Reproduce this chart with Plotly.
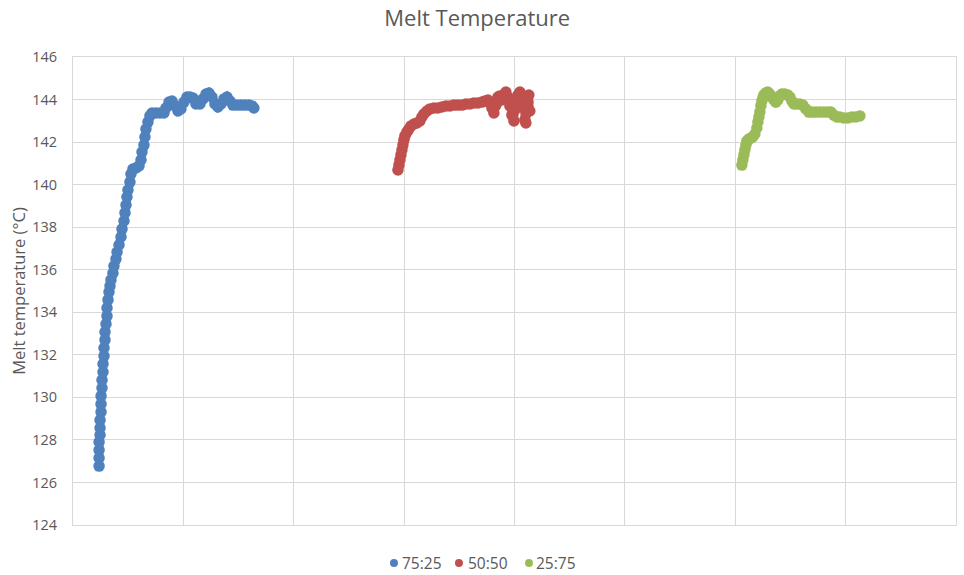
import plotly.graph_objects as go

# Melt temperature traces for three blend ratios (time in minutes, temperature in °C)
blend_names = ["75:25", "50:50", "25:75"]
blend_colors = ["#4F81BD", "#C0504D", "#9BBB59"]

time_75_25 = [
    2.36, 2.36, 2.36, 2.36, 2.45, 2.45, 2.45, 2.54, 2.54, 2.54, 2.63, 2.63, 2.72, 2.72,
    2.81, 2.81, 2.90, 2.90, 2.99, 3.08, 3.08, 3.17, 3.26, 3.35, 3.44, 3.62, 3.71, 3.89,
    3.99, 4.17, 4.35, 4.44, 4.62, 4.71, 4.80, 4.89, 4.98, 5.16, 5.25, 5.43, 5.71, 5.98,
    6.16, 6.25, 6.43, 6.52, 6.61, 6.79, 6.97, 7.16, 7.52, 7.88, 8.24, 8.42, 8.70, 8.97,
    9.24, 9.51, 9.78, 10.05, 10.33, 10.60, 10.87, 11.14, 11.50, 11.78, 12.05, 12.32,
    12.59, 12.86, 13.13, 13.41, 13.68, 13.95, 14.22, 14.49, 14.86, 15.22, 15.58, 15.94,
    16.21, 16.39,
]
temp_75_25 = [
    126.77, 127.15, 127.52, 127.90, 128.23, 128.56, 128.93, 129.31, 129.68, 130.06,
    130.44, 130.81, 131.19, 131.57, 131.94, 132.32, 132.70, 133.07, 133.45, 133.82,
    134.20, 134.58, 134.95, 135.23, 135.52, 135.84, 136.17, 136.50, 136.83, 137.16,
    137.54, 137.91, 138.29, 138.67, 139.04, 139.42, 139.75, 140.12, 140.50, 140.73,
    140.78, 140.88, 141.16, 141.53, 141.86, 142.24, 142.61, 142.94, 143.23, 143.37,
    143.37, 143.37, 143.37, 143.60, 143.88, 143.93, 143.70, 143.46, 143.56, 143.88,
    144.12, 144.12, 144.07, 143.79, 143.79, 144.03, 144.26, 144.31, 144.12, 143.79,
    143.65, 143.79, 144.03, 144.12, 143.93, 143.74, 143.74, 143.74, 143.74, 143.74,
    143.70, 143.60,
]

time_50_50 = [
    29.44, 29.53, 29.62, 29.71, 29.80, 29.89, 29.98, 30.07, 30.25, 30.43, 30.62, 30.89,
    31.16, 31.43, 31.61, 31.79, 32.07, 32.34, 32.70, 33.06, 33.42, 33.79, 34.15, 34.51,
    34.87, 35.24, 35.60, 35.96, 36.32, 36.68, 37.05, 37.32, 37.59, 37.77, 37.95, 38.13,
    38.32, 38.50, 38.68, 38.86, 39.04, 39.22, 39.40, 39.58, 39.76, 39.95, 40.04, 40.13,
    40.31, 40.49, 40.67, 40.85, 40.94, 41.03, 41.12, 41.21, 41.30, 41.39,
]
temp_50_50 = [
    140.69, 140.92, 141.16, 141.39, 141.63, 141.86, 142.10, 142.29, 142.47, 142.61,
    142.76, 142.85, 142.90, 142.99, 143.18, 143.32, 143.46, 143.56, 143.60, 143.60,
    143.65, 143.70, 143.70, 143.74, 143.74, 143.74, 143.79, 143.79, 143.84, 143.84,
    143.88, 143.93, 143.98, 143.84, 143.60, 143.37, 143.74, 144.12, 144.17, 143.98,
    144.21, 144.35, 144.12, 143.70, 143.27, 142.99, 143.51, 143.98, 144.21, 144.35,
    144.07, 143.60, 143.04, 142.90, 143.41, 143.88, 144.21, 143.46,
]

time_25_75 = [
    60.60, 60.69, 60.78, 60.87, 60.96, 61.05, 61.23, 61.41, 61.59, 61.78, 61.96, 62.05,
    62.14, 62.23, 62.32, 62.41, 62.50, 62.59, 62.77, 62.95, 63.13, 63.32, 63.50, 63.68,
    63.86, 64.04, 64.22, 64.49, 64.76, 64.95, 65.13, 65.31, 65.58, 65.85, 66.12, 66.39,
    66.67, 66.94, 67.30, 67.66, 68.03, 68.39, 68.66, 68.93, 69.20, 69.47, 69.84, 70.20,
    70.56, 70.92, 71.29,
]
temp_25_75 = [
    140.92, 141.16, 141.39, 141.63, 141.86, 142.05, 142.14, 142.19, 142.24, 142.38,
    142.66, 142.94, 143.18, 143.41, 143.70, 143.93, 144.07, 144.21, 144.31, 144.35,
    144.26, 144.12, 143.98, 143.88, 143.98, 144.17, 144.26, 144.26, 144.21, 144.12,
    143.93, 143.79, 143.79, 143.79, 143.74, 143.56, 143.41, 143.41, 143.41, 143.41,
    143.41, 143.41, 143.41, 143.27, 143.18, 143.18, 143.13, 143.13, 143.18, 143.18,
    143.23,
]

y_ticks = [124, 126, 128, 130, 132, 134, 136, 138, 140, 142, 144, 146]

series = [
    (time_75_25, temp_75_25),
    (time_50_50, temp_50_50),
    (time_25_75, temp_25_75),
]

text_color = "#595959"
grid_color = "#D9D9D9"
font_family = "Open Sans, Liberation Sans, sans-serif"

fig = go.Figure()
for name, color, (xs, ys) in zip(blend_names, blend_colors, series):
    # underlay so the dense readings read as one continuous band
    fig.add_trace(go.Scatter(
        x=xs, y=ys, mode="lines", showlegend=False, hoverinfo="skip",
        line=dict(color=color, width=8),
    ))
    fig.add_trace(go.Scatter(
        x=xs, y=ys, mode="markers", name=name, showlegend=False,
        marker=dict(color=color, size=11.5, line=dict(width=0)),
    ))

# Compact legend row under the plot: coloured dot followed by the blend label
legend_dot_x = [0.3635, 0.4371, 0.5164]     # paper fractions of the plot width
legend_text_x = [0.3703, 0.4451, 0.5221]
legend_y = -0.081
shapes = []
annotations = []
for name, color, dx, tx in zip(blend_names, blend_colors, legend_dot_x, legend_text_x):
    shapes.append(dict(
        type="circle", xref="paper", yref="paper",
        xsizemode="pixel", ysizemode="pixel", xanchor=dx, yanchor=legend_y,
        x0=-4, x1=4, y0=-4, y1=4,
        fillcolor=color, line=dict(width=0),
    ))
    annotations.append(dict(
        text=name, xref="paper", yref="paper", x=tx, y=legend_y,
        xanchor="left", yanchor="middle", showarrow=False,
        font=dict(size=15.5, color=text_color),
    ))

fig.update_layout(
    width=964, height=575,
    margin=dict(l=73, r=8, t=57, b=50),
    paper_bgcolor="white", plot_bgcolor="white",
    font=dict(family=font_family, color=text_color, size=14.5),
    title=dict(text="Melt Temperature", x=0.495, xanchor="center",
               yref="container", y=1 - 18 / 575, yanchor="middle",
               font=dict(size=22, color=text_color)),
    showlegend=False,
    shapes=shapes,
    annotations=annotations,
)
fig.update_xaxes(
    range=[0, 80], dtick=10, tick0=0, showticklabels=False,
    showgrid=True, gridcolor=grid_color, gridwidth=1, zeroline=False,
    showline=True, linecolor=grid_color, linewidth=1, mirror=True,
)
fig.update_yaxes(
    range=[124, 146], tickvals=y_ticks, ticktext=[str(v) for v in y_ticks],
    showgrid=True, gridcolor=grid_color, gridwidth=1, zeroline=False,
    showline=True, linecolor=grid_color, linewidth=1, mirror=True,
    ticks="", ticklabelstandoff=12,
    tickfont=dict(size=14.5, color=text_color),
    title=dict(text="Melt temperature (°C)", font=dict(size=16.5, color=text_color), standoff=2),
)

fig.write_html("out.html")
